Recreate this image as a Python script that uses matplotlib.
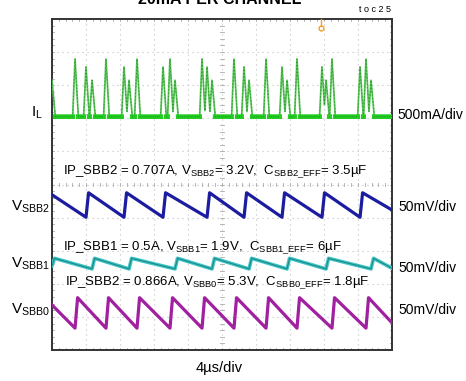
import numpy as np
import matplotlib
matplotlib.use("Agg")
import matplotlib.pyplot as plt

plt.rcParams['font.family'] = ['Liberation Sans', 'DejaVu Sans']
plt.rcParams['mathtext.default'] = 'regular'

# ---------------- data ----------------
T_DIV_US = 4.0            # 4 us/div
IL_A_DIV = 0.5            # 500 mA/div
V_MV_DIV = 50.0           # 50 mV/div

# inductor current spikes: time (us) and peak (A)
il_peak_t = [0.0, 2.71, 4.0, 4.71, 6.35, 8.47, 9.06, 10.0, 13.06, 13.88, 14.47,
             17.65, 18.24, 18.82, 21.41, 22.59, 23.18, 25.18, 27.06, 27.65, 28.82,
             31.76, 32.24, 32.94, 36.24, 36.94, 37.53]
il_peak_a = [0.55, 0.87, 0.75, 0.55, 0.87, 0.75, 0.55, 0.87, 0.75, 0.87, 0.55,
             0.87, 0.75, 0.55, 0.87, 0.75, 0.55, 0.87, 0.75, 0.55, 0.87,
             0.75, 0.55, 0.87, 0.75, 0.87, 0.55]

# output ripple: refresh times (us), ripple top/bottom (mV), start/end values (mV)
vsbb2_jump_t = [4.0, 8.47, 13.06, 18.24, 22.59, 27.06, 31.76, 36.24]
vsbb2_top, vsbb2_bot, vsbb2_start, vsbb2_end = 19.0, -18.0, 16.0, -7.0

vsbb1_jump_t = [0.0, 4.71, 9.06, 14.47, 18.82, 23.18, 27.65, 32.24, 37.53]
vsbb1_top, vsbb1_bot, vsbb1_start, vsbb1_end = 8.0, -8.0, -3.0, -7.0

vsbb0_jump_t = [2.71, 6.35, 10.0, 13.88, 17.65, 21.41, 25.18, 28.82, 32.94, 36.94]
vsbb0_top, vsbb0_bot, vsbb0_start, vsbb0_end = 23.0, -23.0, 12.0, -15.0

# channel positions on screen (divisions from bottom)
POS_IL, POS_V2, POS_V1, POS_V0 = 7.05, 4.37, 2.61, 1.12
trigger_t = 31.65

# ---------------- helpers ----------------
t = np.linspace(0, 40, 4001)

def inductor(t):
    rise, fall = 0.28, 0.38
    y = np.zeros_like(t)
    for tp, pk in zip(il_peak_t, il_peak_a):
        up = np.clip((t - (tp - rise)) / rise, 0, 1)
        dn = np.clip(1 - (t - tp) / fall, 0, 1)
        tri = np.where(t <= tp, up, dn) * pk
        y = np.maximum(y, tri)
    return y

def ripple(jumps, top, bot, start, end):
    rt = 0.3
    xs, ys = [0.0], [start]
    for tj in jumps:
        if tj > 0:
            xs.append(tj); ys.append(bot)
        xs.append(tj + rt); ys.append(top)
    xs.append(40.0); ys.append(end)
    return np.interp(t, xs, ys)

# ---------------- figure ----------------
fig = plt.figure(figsize=(4.66, 3.81), dpi=100)
ax = fig.add_axes([52/466, 1-350/381, 340/466, 331/381])
ax.set_xlim(0, 10)
ax.set_ylim(0, 10)
ax.set_xticks([]); ax.set_yticks([])
for s in ax.spines.values():
    s.set_color('#333333'); s.set_linewidth(1.4)

# graticule
gcol = '#c0c0c0'
for k in range(1, 10):
    ax.axvline(k, color=gcol, lw=0.8, ls=(0, (1, 3.5)), zorder=1)
    ax.axhline(k, color=gcol, lw=0.8, ls=(0, (1, 3.5)), zorder=1)
tcol = '#aaaaaa'
for m in np.arange(0, 10.01, 0.2):
    ax.plot([m, m], [4.95, 5.05], color=tcol, lw=0.6, zorder=1)
    ax.plot([4.95, 5.05], [m, m], color=tcol, lw=0.6, zorder=1)
    ax.plot([m, m], [9.94, 10], color=tcol, lw=0.6, zorder=1)
    ax.plot([m, m], [0, 0.06], color=tcol, lw=0.6, zorder=1)
    ax.plot([0, 0.05], [m, m], color=tcol, lw=0.6, zorder=1)
    ax.plot([9.95, 10], [m, m], color=tcol, lw=0.6, zorder=1)

x = t / T_DIV_US
il = inductor(t)
il_y = POS_IL + il / IL_A_DIV
ax.plot(x, il_y, color='#5cc85c', lw=1.3, zorder=3)
ax.plot(x, il_y, color='#2e962e', lw=0.6, ls=(0, (2, 2)), zorder=3)
base = np.where(il < 0.005, il_y, np.nan)
ax.plot(x, base, color='#22cc22', lw=3.4, zorder=3)
ax.plot(x, base, color='#138a13', lw=0.6, ls=(0, (1, 1.5)), zorder=4)

v2 = ripple(vsbb2_jump_t, vsbb2_top, vsbb2_bot, vsbb2_start, vsbb2_end)
ax.plot(x, POS_V2 + v2 / V_MV_DIV, color='#1c1ca0', lw=2.3, zorder=3)
v1 = ripple(vsbb1_jump_t, vsbb1_top, vsbb1_bot, vsbb1_start, vsbb1_end)
ax.plot(x, POS_V1 + v1 / V_MV_DIV, color='#40c4c4', lw=2.6, zorder=3)
ax.plot(x, POS_V1 + v1 / V_MV_DIV, color='#1a8a8a', lw=0.8, zorder=3)
v0 = ripple(vsbb0_jump_t, vsbb0_top, vsbb0_bot, vsbb0_start, vsbb0_end)
ax.plot(x, POS_V0 + v0 / V_MV_DIV, color='#a020a0', lw=2.3, zorder=3)

# trigger marker
tx = trigger_t / T_DIV_US
ax.plot([tx, tx], [10, 9.8], color='#f0a030', lw=1.0, zorder=5, clip_on=False)
ax.plot([tx], [9.72], marker='o', ms=3.5, mfc='none', mec='#f0a030', mew=1.0, zorder=5)

# ---------------- text ----------------
def fx(px): return px / 466
def fy(py): return 1 - py / 381

fig.text(fx(220), fy(3.5), '20mA PER CHANNEL', ha='center', va='baseline',
         fontsize=11.5, fontweight='bold')
fig.text(fx(391), fy(9.5), 't o c 2 5', ha='right', va='center', fontsize=6.5)

fig.text(fx(31), fy(113), r'$I_L$', ha='left', va='center', fontsize=11)
fig.text(fx(11), fy(207), r'$V_{SBB2}$', ha='left', va='center', fontsize=11)
fig.text(fx(11), fy(264), r'$V_{SBB1}$', ha='left', va='center', fontsize=11)
fig.text(fx(11), fy(310), r'$V_{SBB0}$', ha='left', va='center', fontsize=11)

fig.text(fx(397), fy(115), '500mA/div', ha='left', va='center', fontsize=10)
fig.text(fx(398), fy(207), '50mV/div', ha='left', va='center', fontsize=10)
fig.text(fx(398), fy(268), '50mV/div', ha='left', va='center', fontsize=10)
fig.text(fx(398), fy(310), '50mV/div', ha='left', va='center', fontsize=10)

fig.text(fx(63), fy(172), r'IP_SBB2 = 0.707A, V$_{SBB2}$= 3.2V,  C$_{SBB2\_EFF}$= 3.5µF',
         ha='left', va='center', fontsize=9.5)
fig.text(fx(63), fy(248), r'IP_SBB1 = 0.5A, V$_{SBB1}$= 1.9V,  C$_{SBB1\_EFF}$= 6µF',
         ha='left', va='center', fontsize=9.5)
fig.text(fx(65), fy(283), r'IP_SBB2 = 0.866A, V$_{SBB0}$= 5.3V,  C$_{SBB0\_EFF}$= 1.8µF',
         ha='left', va='center', fontsize=9.5)

fig.text(fx(219), fy(368), '4µs/div', ha='center', va='center', fontsize=10.5)

fig.savefig('out.png', dpi=100)
